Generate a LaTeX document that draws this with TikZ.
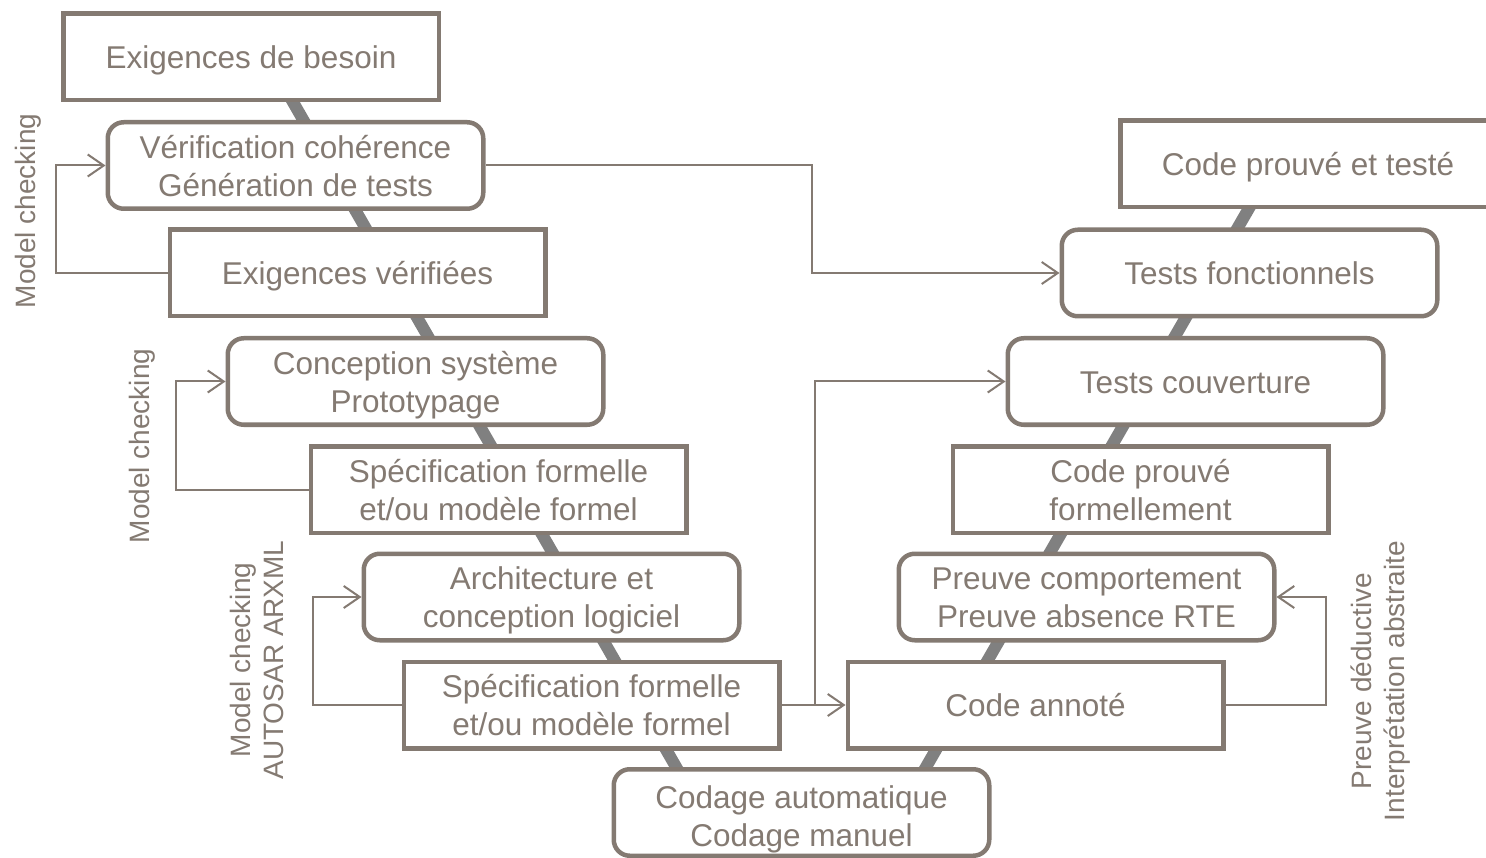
\documentclass[tikz,border=0pt]{standalone}
\usepackage{fontspec}
\setmainfont{Liberation Sans}
\usetikzlibrary{arrows.meta}
\definecolor{bx}{RGB}{132,122,114}
\definecolor{barc}{RGB}{128,128,128}
\newcommand\bigfnt{\fontsize{31.5}{38}\selectfont}
\newcommand\smfnt{\fontsize{28}{33}\selectfont}
\newcommand\bs{\rule[-6.7pt]{0pt}{36.5pt}}
\newcommand\bt{\rule[-6.7pt]{0pt}{28.5pt}}
\tikzset{
  boxstyle/.style={draw=bx, line width=4.5pt, fill=white, minimum width=375.5pt,
    minimum height=86.5pt, text=bx, font=\bigfnt, align=center, inner sep=0pt},
  rboxstyle/.style={boxstyle, rounded corners=16pt},
  spine/.style={draw=barc, line width=12pt},
  conn/.style={draw=bx, line width=2pt, -{Straight Barb[length=16pt,width=22pt]}},
  lbl/.style={text=bx, font=\smfnt, align=center, inner sep=0pt, rotate=90}
}
\begin{document}
\begin{tikzpicture}[x=1pt,y=-1pt]
\useasboundingbox (0,0) rectangle (1486,858);
\clip (0,0) rectangle (1486,858);
\fill[white] (0,0) rectangle (1486,858);
% spine coordinates
\coordinate (sL1) at (267,57);
\coordinate (sL2) at (702,812);
\coordinate (sR1) at (900,812);
\coordinate (sR2) at (1274,165);
\draw[spine] (sL1) -- (sL2);
\draw[spine] (sR1) -- (sR2);
% left column
\node[boxstyle]  (b1) at (251,57)    {\bs Exigences de besoin\bt};
\node[rboxstyle] (b2) at (295.5,165.5) {\bs Vérification cohérence\\\bt Génération de tests};
\node[boxstyle]  (b3) at (357.5,273) {\bs Exigences vérifiées\bt};
\node[rboxstyle] (b4) at (415.5,381.5) {\bs Conception système\\\bt Prototypage};
\node[boxstyle]  (b5) at (498.5,489.5) {\bs Spécification formelle\\\bt et/ou modèle formel};
\node[rboxstyle] (b6) at (551.5,597) {\bs Architecture et\\\bt conception logiciel};
\node[boxstyle]  (b7) at (591.5,705) {\bs Spécification formelle\\\bt et/ou modèle formel};
\node[rboxstyle] (b8) at (801.5,812.5) {\rule[-6.7pt]{0pt}{42.5pt}Codage automatique\\\bt Codage manuel};
% right column
\node[boxstyle]  (b9)  at (1035.5,705) {\bs Code annoté\bt};
\node[rboxstyle] (b10) at (1086.5,597) {\bs Preuve comportement\\\bt Preuve absence RTE};
\node[boxstyle]  (b11) at (1140.5,489.5) {\bs Code prouvé\\\bt formellement};
\node[rboxstyle] (b12) at (1195.5,381.5) {\bs Tests couverture\bt};
\node[rboxstyle] (b13) at (1249.5,273) {\bs Tests fonctionnels\bt};
\node[boxstyle]  (b14) at (1308,164) {\bs Code prouvé et testé\bt};
% connectors
\draw[conn] (b3.west) -- ++(-112,0) |- (b2.west);
\draw[conn] (b5.west) -- ++(-133,0) |- (b4.west);
\draw[conn] (b7.west) -- ++(-89,0) |- (b6.west);
\draw[conn] (b2.east) -- ++(326,0) |- (b13.west);
\draw[conn] (b7.east) -- (b9.west);
\draw[conn] (b7.east) -- ++(33,0) |- (b12.west);
\draw[conn] (b9.east) -- ++(100,0) |- (b10.east);
% labels
\node[lbl] (l1) at (28,211) {Model checking};
\node[lbl] (l2) at (142,446) {Model checking};
\node[lbl] (l3) at (256.5,660) {Model checking\\AUTOSAR ARXML};
\node[lbl] (l4) at (1381,681) {Preuve déductive\\Interprétation abstraite};
\end{tikzpicture}
\end{document}
